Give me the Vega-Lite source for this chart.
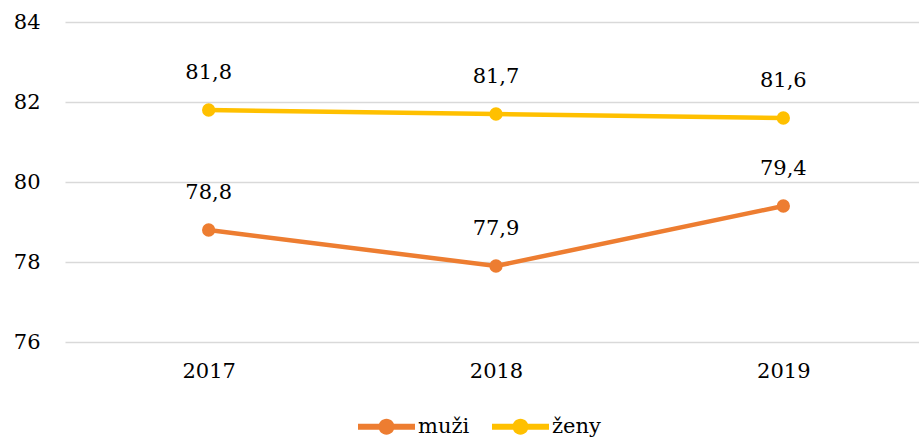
{
  "$schema": "https://vega.github.io/schema/vega-lite/v6.json",
  "width": 862,
  "height": 320,
  "autosize": {"type": "none"},
  "padding": {"left": 65, "top": 22, "right": 0, "bottom": 101},
  "background": "white",
  "config": {
    "view": {"stroke": null},
    "font": "DejaVu Serif",
    "locale": {"number": {"decimal": ",", "thousands": " ", "grouping": [3], "currency": ["", " €"]}}
  },
  "data": {
    "values": [
      {"rok": "2017", "pohlavi": "muži", "hodnota": 78.8},
      {"rok": "2018", "pohlavi": "muži", "hodnota": 77.9},
      {"rok": "2019", "pohlavi": "muži", "hodnota": 79.4},
      {"rok": "2017", "pohlavi": "ženy", "hodnota": 81.8},
      {"rok": "2018", "pohlavi": "ženy", "hodnota": 81.7},
      {"rok": "2019", "pohlavi": "ženy", "hodnota": 81.6}
    ]
  },
  "encoding": {
    "x": {
      "field": "rok", "type": "ordinal",
      "scale": {"type": "point", "padding": 0.5},
      "axis": {"title": null, "labelAngle": 0, "domain": false, "ticks": false, "labelFontSize": 21, "labelColor": "#000", "labelPadding": 18, "labelFont": "DejaVu Serif"}
    },
    "y": {
      "field": "hodnota", "type": "quantitative",
      "scale": {"domain": [76, 84], "nice": false, "zero": false},
      "axis": {"title": null, "values": [76, 78, 80, 82, 84], "domain": false, "ticks": false, "labelFontSize": 21, "labelColor": "#000", "labelPadding": 25, "gridColor": "#d9d9d9", "gridWidth": 1.3, "labelFont": "DejaVu Serif"}
    },
    "color": {
      "field": "pohlavi", "type": "nominal",
      "scale": {"domain": ["muži", "ženy"], "range": ["#ED7D31", "#FFC000"]},
      "legend": {
        "title": null, "orient": "none", "direction": "horizontal",
        "legendX": 293, "legendY": 376,
        "labelFontSize": 21, "labelColor": "#000", "labelFont": "DejaVu Serif",
        "symbolType": "M-1,-0.105H1V0.105H-1Z M0.28,0A0.28,0.28 0 1,1 -0.28,0A0.28,0.28 0 1,1 0.28,0Z",
        "symbolSize": 3249, "symbolStrokeWidth": 0, "symbolOpacity": 1,
        "columnPadding": 22, "labelOffset": 3
      }
    }
  },
  "layer": [
    {"mark": {"type": "line", "strokeWidth": 4.5}},
    {"mark": {"type": "point", "filled": true, "size": 177, "opacity": 1}},
    {
      "mark": {"type": "text", "dy": -37, "fontSize": 21, "color": "#000", "font": "DejaVu Serif"},
      "encoding": {
        "text": {"field": "hodnota", "type": "quantitative", "format": ".1f"},
        "color": {"value": "#000"}
      }
    }
  ]
}
